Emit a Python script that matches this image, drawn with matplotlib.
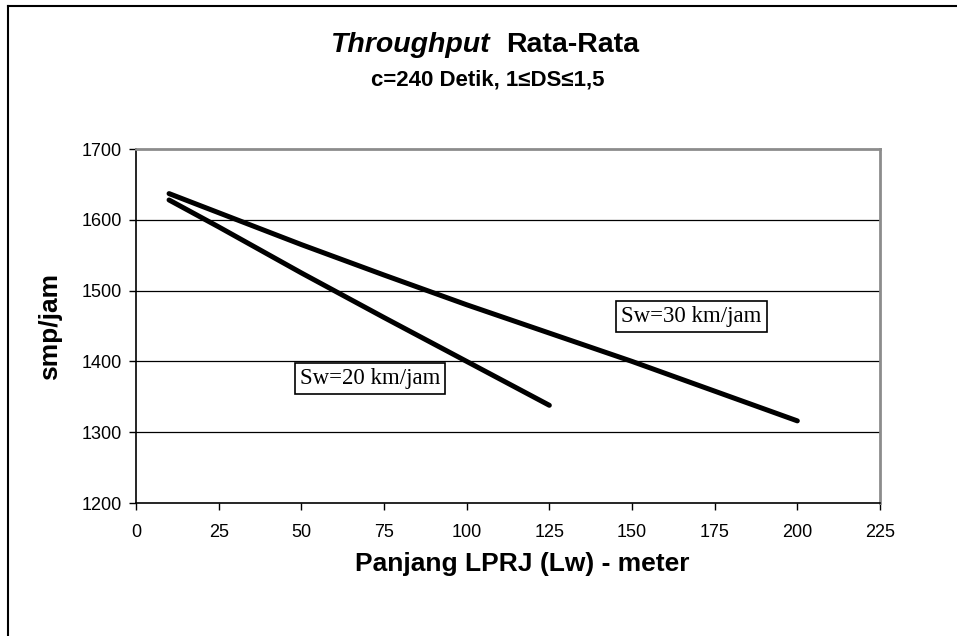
import matplotlib
matplotlib.use("Agg")
import matplotlib.pyplot as plt
from matplotlib.lines import Line2D

# Data
x_sw20 = [10, 25, 50, 75, 100, 125]
y_sw20 = [1628, 1590, 1525, 1462, 1400, 1338]
x_sw30 = [10, 25, 50, 75, 100, 125, 150, 175, 200]
y_sw30 = [1637, 1610, 1565, 1522, 1480, 1440, 1400, 1358, 1316]
label_sw20 = "Sw=20 km/jam"
label_sw30 = "Sw=30 km/jam"
x_ticks = [0, 25, 50, 75, 100, 125, 150, 175, 200, 225]
y_ticks = [1200, 1300, 1400, 1500, 1600, 1700]

W, H = 957, 636
fig = plt.figure(figsize=(W / 100, H / 100), dpi=100)
sans = "Liberation Sans"
serif = "Liberation Serif"

ax = fig.add_axes([136 / W, (H - 503) / H, (880 - 136) / W, (503 - 149) / H])
ax.set_xlim(0, 225)
ax.set_ylim(1200, 1700)
ax.set_xticks(x_ticks)
ax.set_yticks(y_ticks)
ax.tick_params(direction="out", length=5, width=1, colors="black", labelsize=13)
ax.tick_params(axis="x", pad=10)
ax.tick_params(axis="y", pad=5)
for lab in ax.get_xticklabels() + ax.get_yticklabels():
    lab.set_fontfamily(sans)
for yv in y_ticks[1:-1]:
    ax.axhline(yv, color="black", lw=0.9, zorder=1)
ax.spines["left"].set_color("black")
ax.spines["bottom"].set_color("black")
ax.spines["left"].set_linewidth(1.2)
ax.spines["bottom"].set_linewidth(1.2)
ax.spines["top"].set_color("#8c8c8c")
ax.spines["right"].set_color("#8c8c8c")
ax.spines["top"].set_linewidth(2)
ax.spines["right"].set_linewidth(2)

ax.plot(x_sw20, y_sw20, color="black", lw=3.6, solid_capstyle="round", zorder=3)
ax.plot(x_sw30, y_sw30, color="black", lw=3.6, solid_capstyle="round", zorder=3)

box = dict(boxstyle="square,pad=0.22", fc="white", ec="black", lw=1.2)
ax.text(70.8, 1376, label_sw20, family=serif, fontsize=16.5, ha="center", va="center", bbox=box, zorder=4)
ax.text(168, 1463, label_sw30, family=serif, fontsize=16.5, ha="center", va="center", bbox=box, zorder=4)

ax.set_xlabel("Panjang LPRJ (Lw) - meter", family=sans, fontsize=19, fontweight="bold", labelpad=8)
ax.xaxis.label.set_x((522 - 136) / (880 - 136))
ax.set_ylabel("smp/jam", family=sans, fontsize=19, fontweight="bold", labelpad=14)

# Title
fig.text(491 / W, 1 - 45 / H, "Throughput", family=sans, fontsize=20.5, fontweight="bold",
         fontstyle="italic", ha="right", va="center")
fig.text(506 / W, 1 - 45 / H, "Rata-Rata", family=sans, fontsize=20.5, fontweight="bold",
         ha="left", va="center")
fig.text(488 / W, 1 - 80 / H, "c=240 Detik, 1\u2264DS\u22641,5", family=sans, fontsize=16,
         fontweight="bold", ha="center", va="center")

# Outer frame lines
fig.add_artist(Line2D([8 / W, 1], [1 - 6 / H, 1 - 6 / H], transform=fig.transFigure, color="black", lw=1.5))
fig.add_artist(Line2D([8 / W, 8 / W], [0, 1 - 6 / H], transform=fig.transFigure, color="black", lw=1.5))

fig.savefig("out.png", dpi=100)
